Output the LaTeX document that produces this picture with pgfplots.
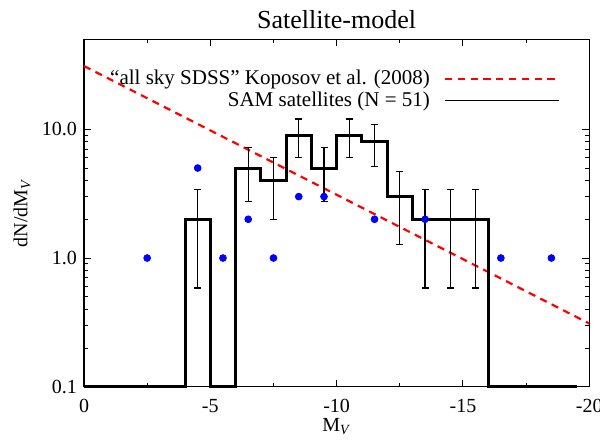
\documentclass[border=0pt]{standalone}
\usepackage{pgfplots}
\pgfplotsset{compat=1.18}
\usepackage{fontspec}
\setmainfont{Liberation Serif}
\begin{document}
\begin{tikzpicture}
\begin{axis}[
  name=ax,
  scale only axis,
  width=252.6pt, height=173.7pt,
  x dir=reverse,
  xmin=-20, xmax=0,
  ymode=log, ymin=0.1, ymax=50,
  clip=false,
  axis line style={line width=0.6pt},
  every tick/.style={black, line width=0.5pt},
  major tick length=3.5pt, minor tick length=2pt,
  xtick={0,-5,-10,-15,-20},
  xticklabels={0,-5,-10,-15,-20},
  minor xtick={-2.5,-7.5,-12.5,-17.5},
  ytick={0.1,1,10},
  yticklabels={0.1,1.0,10.0},
  tick align=inside,
  xtick pos=both, ytick pos=both,
  /pgf/number format/assume math mode=true,
  tick label style={font=\fontsize{10}{12}\selectfont},
  xticklabel style={anchor=base, yshift=-13pt},
  title={Satellite-model},
  every axis title/.style={font=\fontsize{13}{15}\selectfont, at={(axis description cs:0.5,1)}, anchor=base, yshift=5.6pt},
  xlabel={M\textsubscript{\textit{V}}},
  every axis x label/.style={font=\fontsize{10}{12}\selectfont, at={(axis description cs:0.5,0)}, anchor=base, yshift=-22.5pt},
  ylabel={dN/dM\textsubscript{\textit{V}}},
  every axis y label/.style={font=\fontsize{10}{12}\selectfont, at={(axis description cs:-0.1227,0.5)}, rotate=90, anchor=center},
  legend style={draw=none, fill=none, at={(0.947,0.93)}, anchor=north east,
    font=\fontsize{10.5}{12}\selectfont, row sep=-2pt, inner sep=1pt},
  legend cell align=right,
  legend plot pos=right,
  legend image code/.code={\path (0pt,0pt); \draw[#1] (5pt,0pt) -- (62pt,0pt);},
]
% Koposov et al. (2008) luminosity function
\addplot[red, line width=1.1pt, dash pattern=on 3.6pt off 2.8pt] coordinates {(0,31) (-20,0.31)};
\addlegendentry{``all sky SDSS'' Koposov et al. (2008)}
% SAM satellites histogram
\addplot[black, line width=1.5pt, const plot mark left, legend image post style={line width=0.8pt}] coordinates {
  (0,0.1) (-4,2) (-5,0.1) (-6,5) (-7,4) (-8,9) (-9,5) (-10,9) (-11,8) (-12,3) (-13,2) (-16,0.1) (-19.5,0.1)
};
\addlegendentry{SAM satellites (N = 51)}
% Poisson error bars
\addplot[draw=none, mark=none, forget plot,
  error bars/.cd, y dir=both, y explicit,
  error bar style={black, line width=0.6pt},
  error mark options={rotate=90, black, mark size=1.75pt, line width=0.6pt}]
  table[x=x, y=y, y error=e] {
  x y e
  -4.5 2 1.414
  -6.5 5 2.236
  -7.5 4 2.0
  -8.5 9 3.0
  -9.5 5 2.236
  -10.5 9 3.0
  -11.5 8 2.828
  -12.5 3 1.732
  -13.5 2 1.414
  -14.5 2 1.414
  -15.5 2 1.414
};
% observed satellites
\addplot[only marks, mark=*, mark size=1.7pt, color=blue, forget plot] coordinates {
  (-2.5,1) (-4.5,5) (-5.5,1) (-6.5,2) (-7.5,1) (-8.5,3) (-9.5,3) (-11.5,2) (-13.5,2) (-16.5,1) (-18.5,1)
};
\end{axis}
\pgfresetboundingbox
\path[use as bounding box] ([shift={(-42pt,-26.15pt)}]ax.south west) rectangle ([shift={(5.35pt,19.65pt)}]ax.north east);
\end{tikzpicture}
\end{document}
